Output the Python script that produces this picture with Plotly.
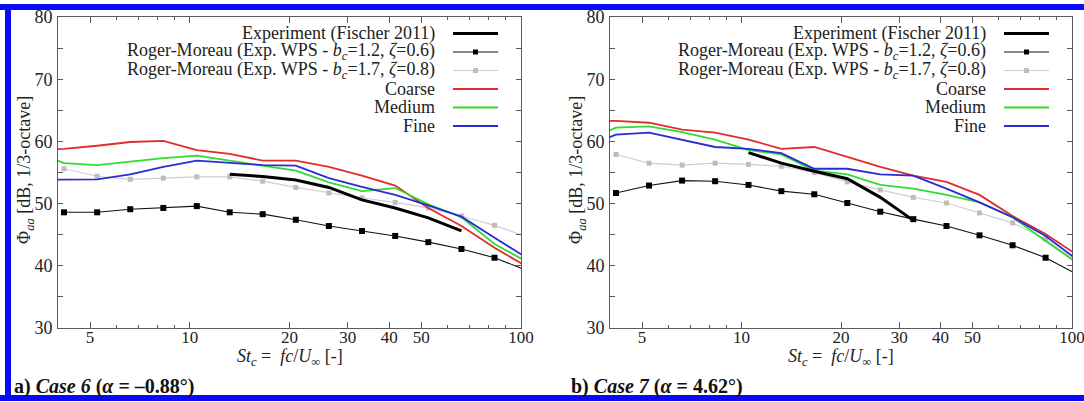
import math
import plotly.graph_objects as go

# 1/3-octave band centres (Strouhal number based on chord)
st_bands = [3.31, 4.17, 5.25, 6.61, 8.32, 10.5, 13.2, 16.6, 20.9, 26.3, 33.1, 41.7, 52.5, 66.1, 83.2, 104.7]
st_rm = st_bands[1:]

# ---- Case 6 (alpha = -0.88 deg) ----
c6_exp_st = [13.2, 16.6, 20.9, 26.3, 33.1, 41.7, 52.5, 66.1]
c6_exp = [54.7, 54.35, 53.8, 52.6, 50.6, 49.3, 47.7, 45.6]
c6_rm12 = [48.6, 48.6, 49.1, 49.3, 49.6, 48.6, 48.3, 47.4, 46.4, 45.6, 44.8, 43.8, 42.7, 41.3, 39.2]
c6_rm17 = [55.6, 54.4, 53.9, 54.1, 54.3, 54.3, 53.6, 52.6, 51.7, 50.9, 50.2, 49.3, 48.0, 46.5, 44.6]
c6_coarse = [58.6, 58.8, 59.3, 59.9, 60.1, 58.6, 58.0, 56.9, 56.9, 55.9, 54.5, 52.9, 49.3, 46.4, 42.9, 39.8]
c6_medium = [58.7, 56.5, 56.2, 56.8, 57.3, 57.7, 56.9, 56.0, 55.3, 53.4, 52.0, 52.5, 49.9, 47.8, 43.5, 40.6]
c6_fine = [53.8, 53.8, 53.9, 54.7, 55.9, 56.9, 56.6, 56.2, 56.1, 54.1, 52.7, 51.4, 49.7, 47.9, 44.5, 41.2]

# ---- Case 7 (alpha = 4.62 deg) ----
c7_exp_st = [10.5, 13.2, 16.6, 20.9, 26.3, 33.1]
c7_exp = [58.2, 56.5, 55.2, 54.0, 51.0, 47.3]
c7_rm12 = [51.7, 52.9, 53.7, 53.6, 53.0, 52.0, 51.5, 50.1, 48.7, 47.5, 46.4, 44.9, 43.3, 41.3, 38.5]
c7_rm17 = [57.9, 56.5, 56.2, 56.5, 56.3, 56.0, 55.0, 53.5, 52.2, 51.0, 50.1, 48.5, 46.9, 44.3, 40.4]
c7_coarse = [63.3, 63.3, 63.0, 61.9, 61.4, 60.3, 58.8, 59.1, 57.5, 55.9, 54.5, 53.5, 51.4, 48.0, 45.1, 41.6]
c7_medium = [60.0, 62.2, 62.4, 61.5, 60.3, 58.6, 57.9, 55.3, 54.7, 53.0, 52.4, 51.4, 50.2, 47.8, 44.0, 40.3]
c7_fine = [58.9, 61.1, 61.4, 60.3, 59.1, 58.8, 58.1, 55.6, 55.6, 54.7, 54.5, 52.4, 50.2, 47.8, 44.8, 40.8]

legend_labels = [
    "Experiment (Fischer 2011)",
    "Roger-Moreau (Exp. WPS - <i>b</i><sub><i>c</i></sub>=1.2, <i>ζ</i>=0.6)",
    "Roger-Moreau (Exp. WPS - <i>b</i><sub><i>c</i></sub>=1.7, <i>ζ</i>=0.8)",
    "Coarse",
    "Medium",
    "Fine",
]
captions = [
    "<b>a) <i>Case 6</i> (<i>α</i> = –0.88°)</b>",
    "<b>b) <i>Case 7</i> (<i>α</i> = 4.62°)</b>",
]

y_ticks = [30, 35, 40, 45, 50, 55, 60, 65, 70, 75, 80]
y_ticktext = ["30", "", "40", "", "50", "", "60", "", "70", "", "80"]
x_ticks = [5, 10, 20, 30, 40, 50, 100]
x_minor = [6, 7, 8, 9, 60, 70, 80, 90]

W, H = 1084, 402
FONT = "Liberation Serif"
TXT = "#222222"
FRAME = "#5a5a5a"

RED = "#e42a2a"
GREEN = "#2fdc2f"
BLUE = "#2a2ad8"
GREY_LINE = "#cfcfcf"
GREY_MARK = "#bdbdbd"

def px(x):
    return x / W

def py(y):
    return 1 - y / H

panels = [
    dict(xd=(58, 521), exp_st=c6_exp_st, exp=c6_exp, rm12=c6_rm12, rm17=c6_rm17,
         coarse=c6_coarse, medium=c6_medium, fine=c6_fine),
    dict(xd=(610, 1072), exp_st=c7_exp_st, exp=c7_exp, rm12=c7_rm12, rm17=c7_rm17,
         coarse=c7_coarse, medium=c7_medium, fine=c7_fine),
]
y_dom = (py(328), py(17))

fig = go.Figure()
shapes = []
annotations = []

for i, p in enumerate(panels):
    xa = "x" if i == 0 else "x2"
    ya = "y" if i == 0 else "y2"
    common = dict(xaxis=xa, yaxis=ya, showlegend=False, hoverinfo="skip")
    fig.add_trace(go.Scatter(x=st_rm, y=p["rm17"], mode="lines+markers",
                             line=dict(color=GREY_LINE, width=1.2),
                             marker=dict(symbol="square", size=5, color=GREY_MARK), **common))
    fig.add_trace(go.Scatter(x=st_rm, y=p["rm12"], mode="lines+markers",
                             line=dict(color="#111111", width=1.1),
                             marker=dict(symbol="square", size=6, color="#000000"), **common))
    fig.add_trace(go.Scatter(x=st_bands, y=p["coarse"], mode="lines",
                             line=dict(color=RED, width=1.8), **common))
    fig.add_trace(go.Scatter(x=st_bands, y=p["medium"], mode="lines",
                             line=dict(color=GREEN, width=1.8), **common))
    fig.add_trace(go.Scatter(x=st_bands, y=p["fine"], mode="lines",
                             line=dict(color=BLUE, width=1.8), **common))
    fig.add_trace(go.Scatter(x=p["exp_st"], y=p["exp"], mode="lines",
                             line=dict(color="#000000", width=3), **common))

    axis_common = dict(showline=True, linecolor=FRAME, linewidth=1, mirror="allticks",
                       showgrid=False, zeroline=False, ticks="inside",
                       tickcolor=FRAME, ticklabeloverflow="allow")
    xkey = "xaxis" if i == 0 else "xaxis2"
    ykey = "yaxis" if i == 0 else "yaxis2"
    fig.update_layout({
        xkey: dict(type="log", range=[math.log10(4), 2], domain=[px(p["xd"][0]), px(p["xd"][1])],
                   tickvals=x_ticks, ticktext=[str(v) for v in x_ticks], ticklen=6,
                   ticklabelstandoff=-6, tickfont=dict(family=FONT, size=17, color=TXT),
                   minor=dict(tickvals=x_minor, ticklen=3, ticks="inside", tickcolor=FRAME),
                   anchor=ya, automargin=False, **axis_common),
        ykey: dict(range=[30, 80], domain=list(y_dom), tickvals=y_ticks, ticktext=y_ticktext,
                   ticklen=5, ticklabelstandoff=1, tickfont=dict(family=FONT, size=18, color=TXT),
                   anchor=xa, automargin=False, **axis_common),
    })

    x0, x1 = p["xd"]
    xc = (x0 + x1) / 2
    # axis titles
    annotations.append(dict(x=px(xc), y=py(357), xref="paper", yref="paper",
                            text="<i>St</i><sub><i>c</i></sub> =  <i>fc</i>/<i>U</i><sub>∞</sub> [-]",
                            showarrow=False, xanchor="center", yanchor="middle",
                            font=dict(family=FONT, size=18, color=TXT)))
    annotations.append(dict(x=px(x0 - 32), y=py(170), xref="paper", yref="paper",
                            text="Φ<sub><i>aa</i></sub> [dB, 1/3-octave]", textangle=-90,
                            showarrow=False, xanchor="center", yanchor="middle",
                            font=dict(family=FONT, size=18, color=TXT)))
    # panel caption
    annotations.append(dict(x=px(12 if i == 0 else 569), y=py(386), xref="paper", yref="paper",
                            text=captions[i], showarrow=False, xanchor="left", yanchor="middle",
                            font=dict(family=FONT, size=20, color="#111111")))

    # key box: label then line sample, right-aligned inside the frame
    txt_right = x1 - 84
    ls0, ls1 = x1 - 68, x1 - 23
    styles = [
        dict(color="#000000", width=3, mark=None),
        dict(color="#111111", width=1.1, mark="#000000"),
        dict(color=GREY_LINE, width=1.2, mark=GREY_MARK),
        dict(color=RED, width=1.8, mark=None),
        dict(color=GREEN, width=1.8, mark=None),
        dict(color=BLUE, width=1.8, mark=None),
    ]
    for k, (lab, st) in enumerate(zip(legend_labels, styles)):
        yk = 33.5 + 18.5 * k
        annotations.append(dict(x=px(txt_right), y=py(yk), xref="paper", yref="paper",
                                text=lab, showarrow=False, xanchor="right", yanchor="middle",
                                font=dict(family=FONT, size=18, color=TXT)))
        shapes.append(dict(type="line", xref="paper", yref="paper",
                           x0=px(ls0), x1=px(ls1), y0=py(yk), y1=py(yk),
                           line=dict(color=st["color"], width=st["width"])))
        if st["mark"]:
            cx = (ls0 + ls1) / 2
            shapes.append(dict(type="rect", xref="paper", yref="paper",
                               x0=px(cx - 2.5), x1=px(cx + 2.5), y0=py(yk + 2.5), y1=py(yk - 2.5),
                               fillcolor=st["mark"], line=dict(width=0)))

# blue frame around the figure
BORDER = "#0a0af5"
shapes.append(dict(type="line", xref="paper", yref="paper", x0=0, x1=1, y0=py(7), y1=py(7),
                   line=dict(color=BORDER, width=6)))
shapes.append(dict(type="line", xref="paper", yref="paper", x0=0, x1=1, y0=py(398), y1=py(398),
                   line=dict(color=BORDER, width=6)))
shapes.append(dict(type="line", xref="paper", yref="paper", x0=px(8), x1=px(8), y0=py(4), y1=py(401),
                   line=dict(color=BORDER, width=6)))

fig.update_layout(
    width=W, height=H,
    margin=dict(l=0, r=0, t=0, b=0),
    paper_bgcolor="white", plot_bgcolor="white",
    font=dict(family=FONT, color=TXT),
    shapes=shapes, annotations=annotations,
    showlegend=False,
)

fig.write_html("out.html")
